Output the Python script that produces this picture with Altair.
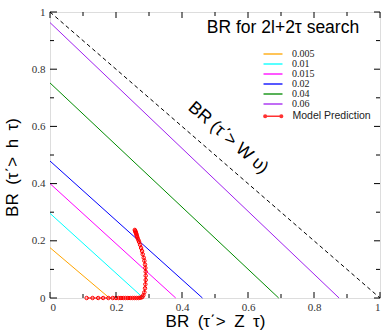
import altair as alt
import pandas as pd

# contour levels: straight lines from (0, y_int) to (x_int, 0)
levels = ["0.005", "0.01", "0.015", "0.02", "0.04", "0.06"]
y_intercepts = [0.176, 0.296, 0.400, 0.479, 0.752, 0.963]
x_intercepts = [0.180, 0.283, 0.381, 0.462, 0.693, 0.876]
level_colors = ["#FFA500", "#00FFFF", "#FF00FF", "#0000FF", "#008B00", "#A020F0"]

# kinematic boundary BR(Z)+BR(h) = 1
bound_x = [0.0, 1.0]
bound_y = [1.0, 0.0]

# model prediction curve
model_x = [0.111, 0.129, 0.146, 0.161, 0.177, 0.190, 0.200, 0.208, 0.215, 0.222,
           0.229, 0.236, 0.243, 0.250, 0.256, 0.262, 0.268, 0.273, 0.277, 0.280,
           0.283, 0.286, 0.288, 0.289, 0.290, 0.290, 0.290, 0.289, 0.288, 0.286,
           0.284, 0.281, 0.279, 0.276, 0.273, 0.270, 0.268, 0.266, 0.264, 0.263,
           0.262, 0.261, 0.260, 0.259, 0.258, 0.257]
model_y = [0.000, 0.000, 0.000, 0.000, 0.000, 0.000, 0.000, 0.000, 0.000, 0.000,
           0.000, 0.000, 0.000, 0.000, 0.000, 0.000, 0.000, 0.001, 0.002, 0.004,
           0.010, 0.020, 0.034, 0.048, 0.063, 0.078, 0.092, 0.105, 0.117, 0.130,
           0.141, 0.153, 0.164, 0.175, 0.186, 0.196, 0.202, 0.208, 0.214, 0.218,
           0.222, 0.226, 0.229, 0.232, 0.235, 0.238]

x_ticks = [0, 0.2, 0.4, 0.6, 0.8, 1]
minor_ticks = [0.1, 0.3, 0.5, 0.7, 0.9]

title_text = "BR for 2l+2τ search"
bound_label = "BR (τ΄> W υ)"
bound_label_x = [0.54]
bound_label_y = [0.56]
x_title = "BR\u2002(τ΄>\u2002Z\u2002τ)"
y_title = "BR\u2002(τ΄>\u2002h\u2002τ)"

W, H = 330, 286

rows = []
for lv, yi, xi in zip(levels, y_intercepts, x_intercepts):
    rows.append({"level": lv, "x": 0.0, "y": yi, "o": 0})
    rows.append({"level": lv, "x": xi, "y": 0.0, "o": 1})
contours = pd.DataFrame(rows)
bound = pd.DataFrame({"x": bound_x, "y": bound_y})
model = pd.DataFrame({"x": model_x, "y": model_y, "series": "Model Prediction",
                      "o": list(range(len(model_x)))})
major = pd.DataFrame({"t": x_ticks})
minor = pd.DataFrame({"t": minor_ticks})

xs = alt.Scale(domain=[0, 1], nice=False, zero=False)
ys = alt.Scale(domain=[0, 1], nice=False, zero=False)

xaxis = alt.Axis(values=x_ticks, format="~g", ticks=False, domain=False, grid=False,
                 labelFont="Liberation Serif", labelFontSize=11, labelColor="#333",
                 labelPadding=3, title=x_title, titleFont="Liberation Sans",
                 titleFontSize=17, titleFontWeight="normal", titleY=28,
                 titleBaseline="alphabetic", titleColor="black")
yaxis = alt.Axis(values=x_ticks, format="~g", ticks=False, domain=False, grid=False,
                 labelFont="Liberation Serif", labelFontSize=11, labelColor="#333",
                 labelPadding=5, title=y_title, titleFont="Liberation Sans",
                 titleFontSize=17, titleFontWeight="normal", titleX=-33, titleY=155,
                 titleBaseline="alphabetic", titleColor="black")

line_path = "M-4,0L4,0"
contour_layer = alt.Chart(contours).mark_line(strokeWidth=1).encode(
    x=alt.X("x:Q", scale=xs, axis=xaxis),
    y=alt.Y("y:Q", scale=ys, axis=yaxis),
    detail="level:N",
    order="o:Q",
    color=alt.Color("level:N", scale=alt.Scale(domain=levels, range=level_colors),
                    legend=alt.Legend(orient="none", legendX=218, legendY=37, title=None,
                                      symbolType=line_path, symbolSize=22.5,
                                      symbolStrokeWidth=2, symbolOpacity=0.65,
                                      labelFont="Liberation Serif", labelFontSize=10,
                                      labelColor="#222", labelOffset=14, rowPadding=0,
                                      padding=0)),
)

bound_layer = alt.Chart(bound).mark_line(color="black", strokeWidth=1,
                                          strokeDash=[4, 3]).encode(
    x=alt.X("x:Q", scale=xs), y=alt.Y("y:Q", scale=ys))

model_path = ("M-4,0L4,0M-2.8,0A0.6,0.6,0,1,1,-4,0A0.6,0.6,0,1,1,-2.8,0"
              "M4,0A0.6,0.6,0,1,1,2.8,0A0.6,0.6,0,1,1,4,0")
model_layer = alt.Chart(model).mark_line(
    strokeWidth=1,
    point=alt.OverlayMarkDef(filled=False, size=12, strokeWidth=1, color="red")
).encode(
    x=alt.X("x:Q", scale=xs), y=alt.Y("y:Q", scale=ys), order="o:Q",
    color=alt.Color("series:N", scale=alt.Scale(domain=["Model Prediction"], range=["red"]),
                    legend=alt.Legend(orient="none", legendX=218, legendY=99, title=None,
                                      symbolType=model_path, symbolSize=22.5,
                                      symbolStrokeWidth=1.3, symbolStrokeColor="red",
                                      symbolFillColor="transparent", symbolOpacity=0.8,
                                      labelFont="Liberation Sans", labelFontSize=10.5,
                                      labelColor="#222", labelOffset=14, padding=0)),
)

def xtick(df, y0, y1):
    return alt.Chart(df).mark_rule(color="black", strokeWidth=1).encode(
        x=alt.X("t:Q", scale=xs), y=alt.value(y0), y2=alt.value(y1))

def ytick(df, x0, x1):
    return alt.Chart(df).mark_rule(color="black", strokeWidth=1).encode(
        y=alt.Y("t:Q", scale=ys), x=alt.value(x0), x2=alt.value(x1))

ticks = [
    xtick(major, H, H - 6), xtick(minor, H, H - 4),
    xtick(major, 0, 6), xtick(minor, 0, 4),
    ytick(major, 0, 7), ytick(minor, 0, 4),
    ytick(major, W, W - 6), ytick(minor, W, W - 4),
]

bound_text = alt.Chart(pd.DataFrame({"x": bound_label_x, "y": bound_label_y,
                                     "t": [bound_label]})).mark_text(
    angle=41, font="Liberation Sans", fontSize=17.5, color="black"
).encode(x=alt.X("x:Q", scale=xs), y=alt.Y("y:Q", scale=ys), text="t:N")

title_layer = alt.Chart(pd.DataFrame({"t": [title_text]})).mark_text(
    font="Liberation Sans", fontSize=17.5, color="black"
).encode(x=alt.value(233), y=alt.value(16), text="t:N")

chart = alt.layer(
    contour_layer, bound_layer, model_layer, bound_text, title_layer, *ticks
).resolve_scale(color="independent").properties(
    width=W, height=H,
    autosize=alt.AutoSizeParams(type="none"),
    padding={"left": 50, "top": 12, "right": 2, "bottom": 33},
).configure_view(stroke="black", strokeWidth=1.5).configure(background="white")

chart.save("out.html", embed_options={"renderer": "svg", "actions": False})
